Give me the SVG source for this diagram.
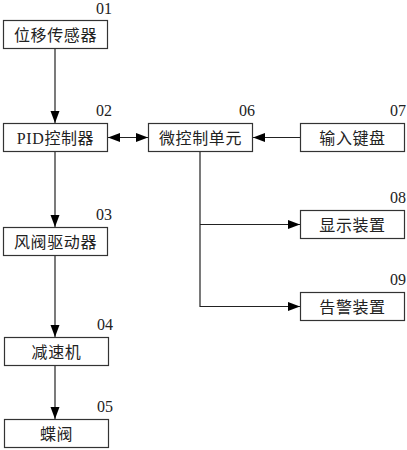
<svg xmlns="http://www.w3.org/2000/svg" width="407" height="450" viewBox="0 0 407 450">
<defs>
<marker id="ah" markerWidth="12" markerHeight="10" refX="12" refY="5" orient="auto" markerUnits="userSpaceOnUse"><path d="M0,0.5 L12,5 L0,9.5 Z" fill="#000"/></marker>
<marker id="ahs" markerWidth="12" markerHeight="10" refX="0" refY="5" orient="auto" markerUnits="userSpaceOnUse"><path d="M12,0.5 L0,5 L12,9.5 Z" fill="#000"/></marker>
</defs>
<style>
.box{fill:#fff;stroke:#333;stroke-width:1.2}
.t{font-family:"Liberation Serif","Noto Sans CJK SC",serif;font-size:16px;letter-spacing:0.6px;fill:#222;text-anchor:middle}
.n{font-family:"Liberation Serif",serif;font-size:16px;fill:#222;text-anchor:end}
.c{stroke:#222;stroke-width:1.2;fill:none}
</style>
<rect width="407" height="450" fill="#fff"/>
<g id="connectors">
<line class="c" x1="55" y1="48" x2="55" y2="123" marker-end="url(#ah)"/>
<line class="c" x1="108" y1="137.5" x2="148" y2="137.5" marker-start="url(#ahs)" marker-end="url(#ah)"/>
<line class="c" x1="300" y1="137.5" x2="253" y2="137.5" marker-end="url(#ah)"/>
<line class="c" x1="55" y1="152" x2="55" y2="227" marker-end="url(#ah)"/>
<line class="c" x1="55" y1="255" x2="55" y2="337" marker-end="url(#ah)"/>
<line class="c" x1="55" y1="365" x2="55" y2="419" marker-end="url(#ah)"/>
<polyline class="c" points="200,152 200,306.5 300,306.5" marker-end="url(#ah)"/>
<line class="c" x1="200" y1="224.5" x2="300" y2="224.5" marker-end="url(#ah)"/>
</g>
<g id="n01"><rect class="box" x="3.5" y="20.5" width="104" height="28"/><text class="t" x="55.5" y="40.5">位移传感器</text><text class="n" x="112" y="14">01</text></g>
<g id="n02"><rect class="box" x="3.5" y="123.5" width="104" height="28"/><text class="t" x="55.5" y="143.5">PID控制器</text><text class="n" x="112" y="116">02</text></g>
<g id="n06"><rect class="box" x="148.5" y="123.5" width="104" height="28"/><text class="t" x="200.5" y="143.5">微控制单元</text><text class="n" x="255" y="116">06</text></g>
<g id="n07"><rect class="box" x="300.5" y="123.5" width="104" height="28"/><text class="t" x="352.5" y="143.5">输入键盘</text><text class="n" x="406" y="116">07</text></g>
<g id="n03"><rect class="box" x="3.5" y="227.5" width="104" height="28"/><text class="t" x="55.5" y="247.5">风阀驱动器</text><text class="n" x="112" y="220">03</text></g>
<g id="n08"><rect class="box" x="300.5" y="210.5" width="104" height="28"/><text class="t" x="352.5" y="230.5">显示装置</text><text class="n" x="406" y="203">08</text></g>
<g id="n09"><rect class="box" x="300.5" y="292.5" width="104" height="28"/><text class="t" x="352.5" y="312.5">告警装置</text><text class="n" x="406" y="285">09</text></g>
<g id="n04"><rect class="box" x="4.5" y="337.5" width="104" height="28"/><text class="t" x="56.5" y="357.5">减速机</text><text class="n" x="113" y="330">04</text></g>
<g id="n05"><rect class="box" x="4.5" y="419.5" width="104" height="28"/><text class="t" x="56.5" y="439.5">蝶阀</text><text class="n" x="113" y="412">05</text></g>
</svg>
